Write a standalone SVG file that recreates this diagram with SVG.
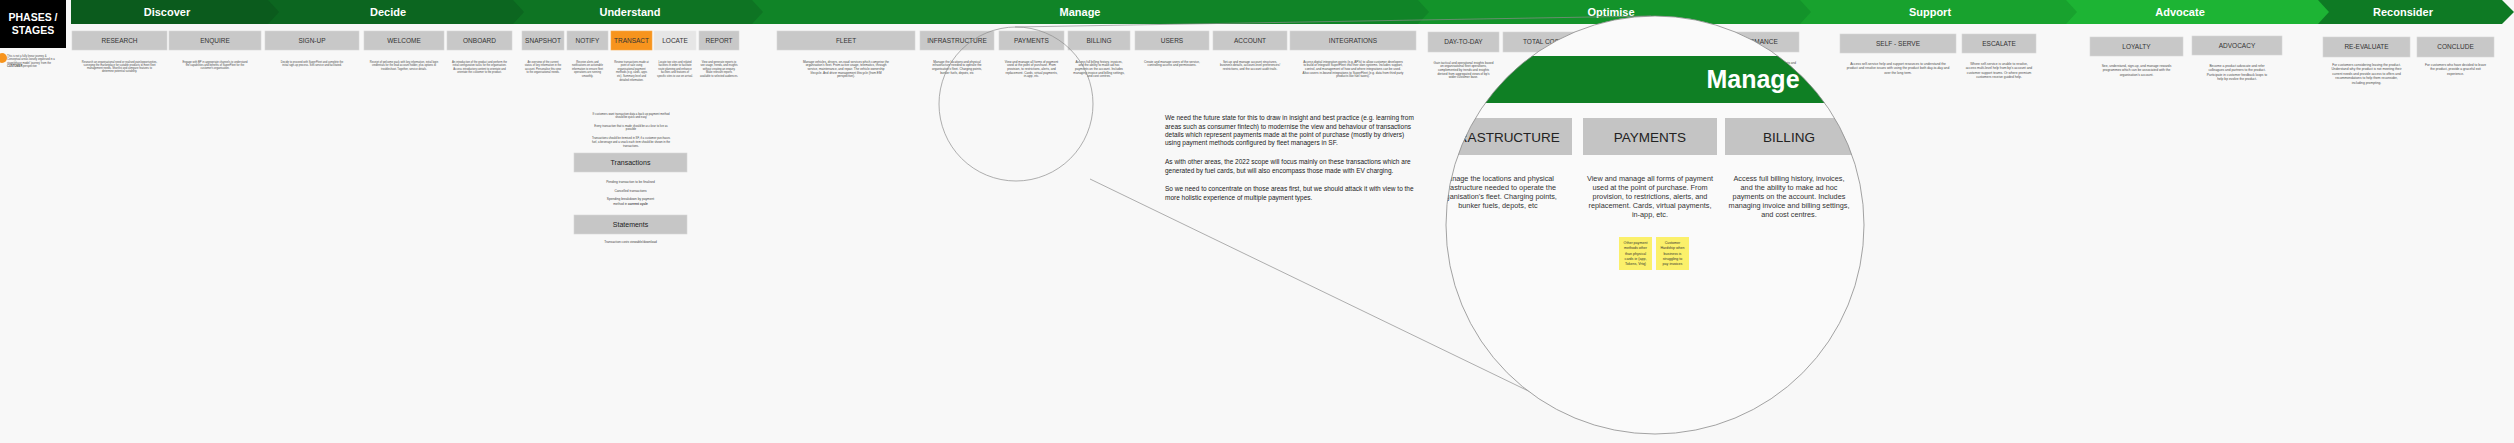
<svg xmlns="http://www.w3.org/2000/svg" width="2514" height="443" viewBox="0 0 2514 443">
<defs>
<style>
text{font-family:"Liberation Sans",Arial,sans-serif}
.bx{fill:#c8c8c8;stroke:#d8d8d8;stroke-width:0.6}
.sl{font-size:6.5px;fill:#333;text-anchor:middle}
.ph{font-size:11px;font-weight:bold;fill:#fff;text-anchor:middle}
.d{font-size:2.7px;fill:#4a4a4a;text-anchor:middle}
.d3{font-size:3.1px}
.d4{font-size:3.3px}
.nt{font-size:2.8px;fill:#444;text-anchor:middle}
.sec{fill:#c6c6c6;stroke:#d6d6d6;stroke-width:0.6}
.secl{font-size:7px;fill:#222;text-anchor:middle}
.nt2{font-size:3.2px;fill:#444;text-anchor:middle}
.par{font-size:6.5px;fill:#222}
.mbx{fill:#c4c4c4}
.ml{font-size:13.5px;fill:#222;text-anchor:middle}
.md{font-size:7.3px;fill:#333;text-anchor:middle}
.st{fill:#fbf06a}
.stt{font-size:3.6px;fill:#333;text-anchor:middle}
.ln{fill:none;stroke:#8c8c8c;stroke-width:0.7}
</style>
<clipPath id="lens"><circle cx="1655" cy="225" r="209"/></clipPath>
</defs>
<rect width="2514" height="443" fill="#f8f8f8"/>

<g id="phases">
<polygon points="2318,0 2502,0 2514,12 2502,24 2318,24" fill="#0e7a24"/>
<polygon points="2066,0 2318,0 2329,12 2318,24 2066,24" fill="#1db434"/>
<polygon points="1800,0 2066,0 2077,12 2066,24 1800,24" fill="#18a22e"/>
<polygon points="1418,0 1800,0 1811,12 1800,24 1418,24" fill="#13932a"/>
<polygon points="752,0 1418,0 1429,12 1418,24 752,24" fill="#108427"/>
<polygon points="513,0 752,0 763,12 752,24 513,24" fill="#0e7423"/>
<polygon points="268,0 513,0 524,12 513,24 268,24" fill="#0c6620"/>
<polygon points="71,0 268,0 279,12 268,24 71,24" fill="#0b5b1d"/>
<text class="ph" x="167" y="16">Discover</text>
<text class="ph" x="388" y="16">Decide</text>
<text class="ph" x="630" y="16">Understand</text>
<text class="ph" x="1080" y="16">Manage</text>
<text class="ph" x="1611" y="16">Optimise</text>
<text class="ph" x="1930" y="16">Support</text>
<text class="ph" x="2180" y="16">Advocate</text>
<text class="ph" x="2403" y="16">Reconsider</text>
</g>

<g id="title">
<rect x="0" y="0" width="66" height="48" fill="#000"/>
<text x="33" y="21" font-size="10.5" font-weight="bold" fill="#fff" text-anchor="middle">PHASES /</text>
<text x="33" y="34" font-size="10.5" font-weight="bold" fill="#fff" text-anchor="middle">STAGES</text>
<circle cx="2" cy="58" r="5" fill="#f7941d"/>
<text class="d" style="text-anchor:start" x="7" y="57"><tspan x="7">This is not a fully linear journey &amp;</tspan><tspan x="7" dy="3.3">Conceptual areas loosely organised in a</tspan><tspan x="7" dy="3.3">stage/phase model 'journey' from the</tspan><tspan x="7" dy="3.3"><tspan font-weight="bold">CUSTOMER</tspan> perspective</tspan></text>
</g>

<g id="n-research"><rect class="bx" x="72" y="31" width="95" height="19"/><text class="sl" x="119.5" y="42.8">RESEARCH</text>
<text class="d" x="119.5" y="62.5"><tspan x="119.5">Research an organisational need or realised pain/opportunities,</tspan><tspan x="119.5" dy="3.3">surveying the marketplace for suitable products to meet fleet</tspan><tspan x="119.5" dy="3.3">management needs. Shortlist and compare features to</tspan><tspan x="119.5" dy="3.3">determine potential suitability.</tspan></text></g>
<g id="n-enquire"><rect class="bx" x="169" y="31" width="92" height="19"/><text class="sl" x="215" y="42.8">ENQUIRE</text>
<text class="d" x="215" y="62.5"><tspan x="215">Engage with BP in appropriate channels to understand</tspan><tspan x="215" dy="3.3">the capabilities and benefits of SuperFleet for the</tspan><tspan x="215" dy="3.3">customer's organisation.</tspan></text></g>
<g id="n-signup"><rect class="bx" x="265" y="31" width="94" height="19"/><text class="sl" x="312" y="42.8">SIGN-UP</text>
<text class="d" x="312" y="62.5"><tspan x="312">Decide to proceed with SuperFleet and complete the</tspan><tspan x="312" dy="3.3">initial sign-up process. Self-service and facilitated.</tspan></text></g>
<g id="n-welcome"><rect class="bx" x="364" y="31" width="80" height="19"/><text class="sl" x="404" y="42.8">WELCOME</text>
<text class="d" x="404" y="62.5"><tspan x="404">Receipt of welcome pack with key information, initial login</tspan><tspan x="404" dy="3.5">credentials for the lead account holder, plus options to</tspan><tspan x="404" dy="3.5">troubleshoot. Together, service details.</tspan></text></g>
<g id="n-onboard"><rect class="bx" x="447" y="31" width="65" height="19"/><text class="sl" x="479.5" y="42.8">ONBOARD</text>
<text class="d" x="479.5" y="62.5"><tspan x="479.5">An introduction of the product and perform the</tspan><tspan x="479.5" dy="3.5">initial configuration tasks for the organisation.</tspan><tspan x="479.5" dy="3.5">Access introductory content to orientate and</tspan><tspan x="479.5" dy="3.5">orientate the customer to the product.</tspan></text></g>

<g id="n-snapshot"><rect class="bx" x="522" y="31" width="42" height="19"/><text class="sl" x="543" y="42.8">SNAPSHOT</text>
<text class="d" x="543" y="62.5"><tspan x="543">An overview of the current</tspan><tspan x="543" dy="3.6">status of key information in the</tspan><tspan x="543" dy="3.6">account. Personalise this view</tspan><tspan x="543" dy="3.6">to the organisational needs.</tspan></text></g>
<g id="n-notify"><rect class="bx" x="567" y="31" width="41" height="19"/><text class="sl" x="587.5" y="42.8">NOTIFY</text>
<text class="d" x="587.5" y="62.5"><tspan x="587.5">Receive alerts and</tspan><tspan x="587.5" dy="3.6">notifications on actionable</tspan><tspan x="587.5" dy="3.6">information to ensure fleet</tspan><tspan x="587.5" dy="3.6">operations are running</tspan><tspan x="587.5" dy="3.6">smoothly.</tspan></text></g>
<g id="n-transact"><rect x="611" y="31" width="41" height="19" fill="#f7941d" stroke="#f9a94a" stroke-width="0.6"/><text class="sl" x="631.5" y="42.8">TRANSACT</text>
<text class="d" x="631.5" y="62.5"><tspan x="631.5">Review transactions made at</tspan><tspan x="631.5" dy="3.6">point of sale using</tspan><tspan x="631.5" dy="3.6">organisational payment</tspan><tspan x="631.5" dy="3.6">methods (e.g. cards, apps</tspan><tspan x="631.5" dy="3.6">etc). Summary level and</tspan><tspan x="631.5" dy="3.6">detailed information.</tspan></text></g>
<g id="n-locate"><rect x="654" y="31" width="42" height="19" fill="#e6e6e6" stroke="#ececec" stroke-width="0.6"/><text class="sl" x="675" y="42.8">LOCATE</text>
<text class="d" x="675" y="62.5"><tspan x="675">Locate top sites and related</tspan><tspan x="675" dy="3.6">facilities in order to facilitate</tspan><tspan x="675" dy="3.6">route planning and enhance</tspan><tspan x="675" dy="3.6">facilities and features of</tspan><tspan x="675" dy="3.6">specific sites to use on arrival.</tspan></text></g>
<g id="n-report"><rect class="bx" x="699" y="31" width="40" height="19"/><text class="sl" x="719" y="42.8">REPORT</text>
<text class="d" x="719" y="62.5"><tspan x="719">View and generate reports to</tspan><tspan x="719" dy="3.6">see usage, trends, and insights</tspan><tspan x="719" dy="3.6">without creating an enquiry.</tspan><tspan x="719" dy="3.6">Make relevant reports</tspan><tspan x="719" dy="3.6">available to selected audiences.</tspan></text></g>

<g id="transact-detail">
<text class="nt" x="631" y="115"><tspan x="631">If customers want transaction data a back up payment method</tspan><tspan x="631" dy="3.3">should be quick and easy</tspan></text>
<text class="nt" x="631" y="127"><tspan x="631">Every transaction that is made should be as close to live as</tspan><tspan x="631" dy="3.3">possible</tspan></text>
<text class="nt" x="631" y="139"><tspan x="631">Transactions should be itemised in SF, if a customer purchases</tspan><tspan x="631" dy="3.8">fuel, a beverage and a snack each item should be shown in the</tspan><tspan x="631" dy="3.8">transactions.</tspan></text>
</g>
<g id="n-transactions"><rect class="sec" x="574" y="153" width="113" height="19"/><text class="secl" x="630.5" y="165">Transactions</text>
<text class="nt2" x="630.5" y="182.5">Pending transaction to be finalised</text>
<text class="nt2" x="630.5" y="191.5">Cancelled transactions</text>
<text class="nt2" x="630.5" y="200.3"><tspan x="630.5">Spending breakdown by payment</tspan><tspan x="630.5" dy="4.3">method in <tspan font-weight="bold">current cycle</tspan></tspan></text></g>
<g id="n-statements"><rect class="sec" x="574" y="215" width="113" height="19"/><text class="secl" x="630.5" y="227">Statements</text>
<text class="nt2" x="630.5" y="242.5">Transaction costs viewable/download</text></g>

<g id="n-fleet"><rect class="bx" x="777" y="31" width="138" height="19"/><text class="sl" x="846" y="42.8">FLEET</text>
<text class="d d3" x="846" y="62.5"><tspan x="846">Manage vehicles, drivers, on-road services which comprise the</tspan><tspan x="846" dy="3.7">organisation's fleet. From active usage, telematics, through</tspan><tspan x="846" dy="3.7">service, maintenance, and repair. The vehicle ownership</tspan><tspan x="846" dy="3.7">lifecycle. And driver management lifecycle (from EM</tspan><tspan x="846" dy="3.7">perspective).</tspan></text></g>
<g id="n-infrastructure"><rect class="bx" x="920" y="31" width="74" height="19"/><text class="sl" x="957" y="42.8">INFRASTRUCTURE</text>
<text class="d d3" x="957" y="62.5"><tspan x="957">Manage the locations and physical</tspan><tspan x="957" dy="3.7">infrastructure needed to operate the</tspan><tspan x="957" dy="3.7">organisation's fleet. Charging points,</tspan><tspan x="957" dy="3.7">bunker fuels, depots, etc</tspan></text></g>
<g id="n-payments"><rect class="bx" x="999" y="31" width="65" height="19"/><text class="sl" x="1031.5" y="42.8">PAYMENTS</text>
<text class="d d3" x="1031.5" y="62.5"><tspan x="1031.5">View and manage all forms of payment</tspan><tspan x="1031.5" dy="3.7">used at the point of purchase.  From</tspan><tspan x="1031.5" dy="3.7">provision, to restrictions, alerts, and</tspan><tspan x="1031.5" dy="3.7">replacement.  Cards, virtual payments,</tspan><tspan x="1031.5" dy="3.7">in-app, etc.</tspan></text></g>
<g id="n-billing"><rect class="bx" x="1068" y="31" width="62" height="19"/><text class="sl" x="1099" y="42.8">BILLING</text>
<text class="d d3" x="1099" y="62.5"><tspan x="1099">Access full billing history, invoices,</tspan><tspan x="1099" dy="3.7">and the ability to make ad hoc</tspan><tspan x="1099" dy="3.7">payments on the account.  Includes</tspan><tspan x="1099" dy="3.7">managing invoice and billing settings,</tspan><tspan x="1099" dy="3.7">and cost centres.</tspan></text></g>
<g id="n-users"><rect class="bx" x="1135" y="31" width="74" height="19"/><text class="sl" x="1172" y="42.8">USERS</text>
<text class="d d3" x="1172" y="62.5"><tspan x="1172">Create and manage users of the service,</tspan><tspan x="1172" dy="3.7">controlling access and permissions.</tspan></text></g>
<g id="n-account"><rect class="bx" x="1213" y="31" width="74" height="19"/><text class="sl" x="1250" y="42.8">ACCOUNT</text>
<text class="d d3" x="1250" y="62.5"><tspan x="1250">Set-up and manage account structures,</tspan><tspan x="1250" dy="3.7">business details, account-level preferences/</tspan><tspan x="1250" dy="3.7">restrictions, and the account audit trails.</tspan></text></g>
<g id="n-integrations"><rect class="bx" x="1290" y="31" width="126" height="19"/><text class="sl" x="1353" y="42.8">INTEGRATIONS</text>
<text class="d d3" x="1353" y="62.5"><tspan x="1353">Access digital integration points (e.g. APIs) to allow customer developers</tspan><tspan x="1353" dy="3.7">to build or integrate SuperFleet into their own systems. Includes support,</tspan><tspan x="1353" dy="3.7">control, and management of how and where integrations can be used.</tspan><tspan x="1353" dy="3.7">Also covers in-bound integrations to SuperFleet (e.g. data from third party</tspan><tspan x="1353" dy="3.7">products like fuel taxes).</tspan></text></g>

<g id="n-daytoday"><rect class="bx" x="1428" y="32" width="71" height="20"/><text class="sl" x="1463.5" y="44.3">DAY-TO-DAY</text>
<text class="d d3" x="1463.5" y="63.5"><tspan x="1463.5">Gain tactical and operational insights based</tspan><tspan x="1463.5" dy="3.7">on organisational fleet operations,</tspan><tspan x="1463.5" dy="3.7">complemented by trends and insights</tspan><tspan x="1463.5" dy="3.7">derived from aggregated views of bp's</tspan><tspan x="1463.5" dy="3.7">wider customer base.</tspan></text></g>
<g id="n-totalcost"><rect class="bx" x="1503" y="32" width="80" height="20"/><text class="sl" x="1543" y="44.3">TOTAL COST</text></g>
<g id="n-performance"><rect class="bx" x="1706" y="32" width="93" height="20"/><text class="sl" x="1752.5" y="44.3">PERFORMANCE</text>
<text class="d d3" x="1796" y="63.5" style="text-anchor:end">Track performance against set targets and</text></g>

<g id="n-selfserve"><rect class="bx" x="1840" y="34" width="116" height="19"/><text class="sl" x="1898" y="45.8">SELF - SERVE</text>
<text class="d d4" x="1898" y="64.7"><tspan x="1898">Access self-service help and support resources to understand the</tspan><tspan x="1898" dy="4.5">product and resolve issues with using the product both day-to-day and</tspan><tspan x="1898" dy="4.5">over the long term.</tspan></text></g>
<g id="n-escalate"><rect class="bx" x="1962" y="34" width="74" height="19"/><text class="sl" x="1999" y="45.8">ESCALATE</text>
<text class="d d4" x="1999" y="64.7"><tspan x="1999">Where self-service is unable to resolve,</tspan><tspan x="1999" dy="4.5">access multi-level help from bp's account and</tspan><tspan x="1999" dy="4.5">customer support teams. Or where premium</tspan><tspan x="1999" dy="4.5">customers receive guided help.</tspan></text></g>
<g id="n-loyalty"><rect class="bx" x="2090" y="37" width="93" height="19"/><text class="sl" x="2136.5" y="48.8">LOYALTY</text>
<text class="d d4" x="2136.5" y="67"><tspan x="2136.5">See, understand, sign-up, and manage rewards</tspan><tspan x="2136.5" dy="4.4">programmes which can be associated with the</tspan><tspan x="2136.5" dy="4.4">organisation's account.</tspan></text></g>
<g id="n-advocacy"><rect class="bx" x="2192" y="36" width="90" height="19"/><text class="sl" x="2237" y="47.8">ADVOCACY</text>
<text class="d d4" x="2237" y="67"><tspan x="2237">Become a product advocate and refer</tspan><tspan x="2237" dy="4.4">colleagues and partners to the product.</tspan><tspan x="2237" dy="4.4">Participate in customer feedback loops to</tspan><tspan x="2237" dy="4.4">help bp evolve the product.</tspan></text></g>
<g id="n-reevaluate"><rect class="bx" x="2323" y="37" width="87" height="20"/><text class="sl" x="2366.5" y="49.3">RE-EVALUATE</text>
<text class="d d4" x="2366.5" y="66"><tspan x="2366.5">For customers considering leaving the product.</tspan><tspan x="2366.5" dy="4.4">Understand why the product is not meeting their</tspan><tspan x="2366.5" dy="4.4">current needs and provide access to offers and</tspan><tspan x="2366.5" dy="4.4">recommendations to help them reconsider,</tspan><tspan x="2366.5" dy="4.4">including prompting.</tspan></text></g>
<g id="n-conclude"><rect class="bx" x="2417" y="37" width="77" height="20"/><text class="sl" x="2455.5" y="49.3">CONCLUDE</text>
<text class="d d4" x="2455.5" y="66"><tspan x="2455.5">For customers who have decided to leave</tspan><tspan x="2455.5" dy="4.4">the product, provide a graceful exit</tspan><tspan x="2455.5" dy="4.4">experience.</tspan></text></g>

<g id="note">
<text class="par" x="1165" y="120.3"><tspan x="1165">We need the future state for this to draw in insight and best practice (e.g. learning from</tspan><tspan x="1165" dy="8.3">areas such as consumer fintech) to modernise the view and behaviour of transactions</tspan><tspan x="1165" dy="8.3">details which represent payments made at the point of purchase (mostly by drivers)</tspan><tspan x="1165" dy="8.3">using payment methods configured by fleet managers in SF.</tspan><tspan x="1165" dy="19">As with other areas, the 2022 scope will focus mainly on these transactions which are</tspan><tspan x="1165" dy="8.3">generated by fuel cards, but will also encompass those made with EV charging.</tspan><tspan x="1165" dy="18.7">So we need to concentrate on those areas first, but we should attack it with view to the</tspan><tspan x="1165" dy="8.3">more holistic experience of multiple payment types.</tspan></text>
</g>

<g id="connectors">
<line class="ln" x1="1015" y1="27" x2="1651" y2="16"/>
<line class="ln" x1="1090" y1="179" x2="1547" y2="400"/>
</g>

<g id="lens-small"><circle class="ln" cx="1016" cy="104" r="77"/></g>

<g id="lens-big">
<g clip-path="url(#lens)">
<rect x="1440" y="10" width="430" height="430" fill="#fafafa"/>
<rect x="1440" y="56" width="430" height="47" fill="#0f7f24"/>
<text x="1753" y="88" font-size="25" font-weight="bold" fill="#fff" text-anchor="middle">Manage</text>
<rect class="mbx" x="1420" y="118" width="152" height="37"/><text class="ml" x="1498" y="141.8">INFRASTRUCTURE</text>
<rect class="mbx" x="1583" y="118" width="134" height="37"/><text class="ml" x="1650" y="141.8">PAYMENTS</text>
<rect class="mbx" x="1725" y="118" width="135" height="37"/><text class="ml" x="1789" y="141.8">BILLING</text>
<text class="md" x="1498" y="180.5"><tspan x="1498">Manage the locations and physical</tspan><tspan x="1498" dy="9">infrastructure needed to operate the</tspan><tspan x="1498" dy="9">organisation's fleet. Charging points,</tspan><tspan x="1498" dy="9">bunker fuels, depots, etc</tspan></text>
<text class="md" x="1650" y="180.5"><tspan x="1650">View and manage all forms of payment</tspan><tspan x="1650" dy="9">used at the point of purchase.  From</tspan><tspan x="1650" dy="9">provision, to restrictions, alerts, and</tspan><tspan x="1650" dy="9">replacement.  Cards, virtual payments,</tspan><tspan x="1650" dy="9">in-app, etc.</tspan></text>
<text class="md" x="1789" y="180.5"><tspan x="1789">Access full billing history, invoices,</tspan><tspan x="1789" dy="9">and the ability to make ad hoc</tspan><tspan x="1789" dy="9">payments on the account.  Includes</tspan><tspan x="1789" dy="9">managing invoice and billing settings,</tspan><tspan x="1789" dy="9">and cost centres.</tspan></text>
<g id="sticky-1"><rect class="st" x="1619" y="237" width="33" height="33"/><text class="stt" x="1635.5" y="244"><tspan x="1635.5">Other payment</tspan><tspan x="1635.5" dy="5.3">methods other</tspan><tspan x="1635.5" dy="5.3">than physical</tspan><tspan x="1635.5" dy="5.3">cards ie (app,</tspan><tspan x="1635.5" dy="5.3">Tokens, Vrtq)</tspan></text></g>
<g id="sticky-2"><rect class="st" x="1656" y="237" width="33" height="33"/><text class="stt" x="1672.5" y="244"><tspan x="1672.5">Customer</tspan><tspan x="1672.5" dy="5.3">Hardship when</tspan><tspan x="1672.5" dy="5.3">business is</tspan><tspan x="1672.5" dy="5.3">struggling to</tspan><tspan x="1672.5" dy="5.3">pay invoices</tspan></text></g>
</g>
<circle cx="1655" cy="225" r="209" fill="none" stroke="#8c8c8c" stroke-width="0.8"/>
</g>
</svg>
